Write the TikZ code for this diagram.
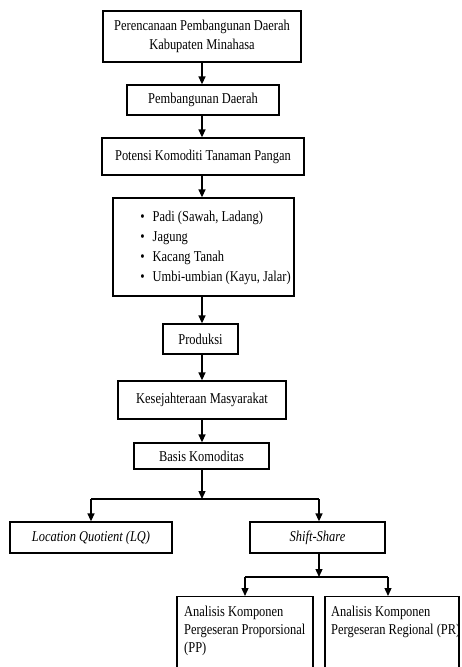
\documentclass[tikz,border=0pt]{standalone}
\usepackage{fontspec}
\setmainfont{Liberation Serif}[FakeStretch=0.83]
\usetikzlibrary{arrows.meta}
\begin{document}
\begin{tikzpicture}[x=1pt,y=-1pt,
  box/.style={draw, line width=1.3pt, inner sep=0pt, font=\fontsize{15}{19}\selectfont, align=center},
  txt/.style={inner sep=0pt, font=\fontsize{15}{18}\selectfont, align=left, anchor=north west},
  arr/.style={line width=1.3pt, -{Triangle[length=8pt,width=7pt]}},
  ln/.style={line width=1.3pt}]
\useasboundingbox (0,0) rectangle (461,667);
\clip (0,0) rectangle (461,667);
\fill[white] (0,0) rectangle (461,667);

\node[box, minimum width=198pt, minimum height=51pt] (b1) at (202,36.5) {Perencanaan Pembangunan Daerah\\Kabupaten Minahasa};
\node[box, minimum width=152pt, minimum height=30pt] (b2) at (203,100) {Pembangunan Daerah};
\node[box, minimum width=202pt, minimum height=37pt] (b3) at (203,156.5) {Potensi Komoditi Tanaman Pangan};
\node[box, minimum width=181pt, minimum height=98pt] (b4) at (203.5,247) {\hspace*{24pt}\fontsize{15}{20}\selectfont\begin{tabular}{@{}l@{\hspace{8pt}}l@{}}
\textbullet & Padi (Sawah, Ladang)\\
\textbullet & Jagung\\
\textbullet & Kacang Tanah\\
\textbullet & Umbi-umbian (Kayu, Jalar)
\end{tabular}};
\node[box, minimum width=75pt, minimum height=30pt] (b5) at (200.5,339) {Produksi};
\node[box, minimum width=168pt, minimum height=38pt] (b6) at (202,400) {Kesejahteraan Masyarakat};
\node[box, minimum width=135pt, minimum height=26pt] (b7) at (201.5,456) {Basis Komoditas};
\node[box, minimum width=162pt, minimum height=31pt] (lq) at (91,537.5) {\itshape Location Quotient (LQ)};
\node[box, minimum width=135pt, minimum height=31pt] (ss) at (317.5,537.5) {\itshape Shift-Share};
\node[box, minimum width=136pt, minimum height=90pt, anchor=north] (pp) at (245,596) {};
\node[box, minimum width=134pt, minimum height=90pt, anchor=north] (pr) at (392,596) {};
\node[txt] (ppt) at (184,606) {Analisis Komponen\\Pergeseran Proporsional\\(PP)};
\node[txt] (prt) at (331,606) {Analisis Komponen\\Pergeseran Regional (PR)};

\coordinate (j1) at (202,499);
\coordinate (j2) at (319,577);

\draw[arr] (b1.south -| 202,0) -- (b2.north -| 202,0);
\draw[arr] (b2.south -| 202,0) -- (b3.north -| 202,0);
\draw[arr] (b3.south -| 202,0) -- (b4.north -| 202,0);
\draw[arr] (b4.south -| 202,0) -- (b5.north -| 202,0);
\draw[arr] (b5.south -| 202,0) -- (b6.north -| 202,0);
\draw[arr] (b6.south -| 202,0) -- (b7.north -| 202,0);
\draw[arr] (b7.south -| j1) -- (j1);
\draw[ln] (j1) -- (j1 -| lq.north);
\draw[ln] (j1) -- (j1 -| 319,0);
\draw[arr] (j1 -| lq.north) -- (lq.north);
\draw[arr] (j1 -| 319,0) -- (ss.north -| 319,0);
\draw[arr] (ss.south -| j2) -- (j2);
\draw[ln] (j2 -| pp.north) -- (j2 -| 388,0);
\draw[arr] (j2 -| pp.north) -- (pp.north);
\draw[arr] (j2 -| 388,0) -- (pr.north -| 388,0);
\end{tikzpicture}
\end{document}
